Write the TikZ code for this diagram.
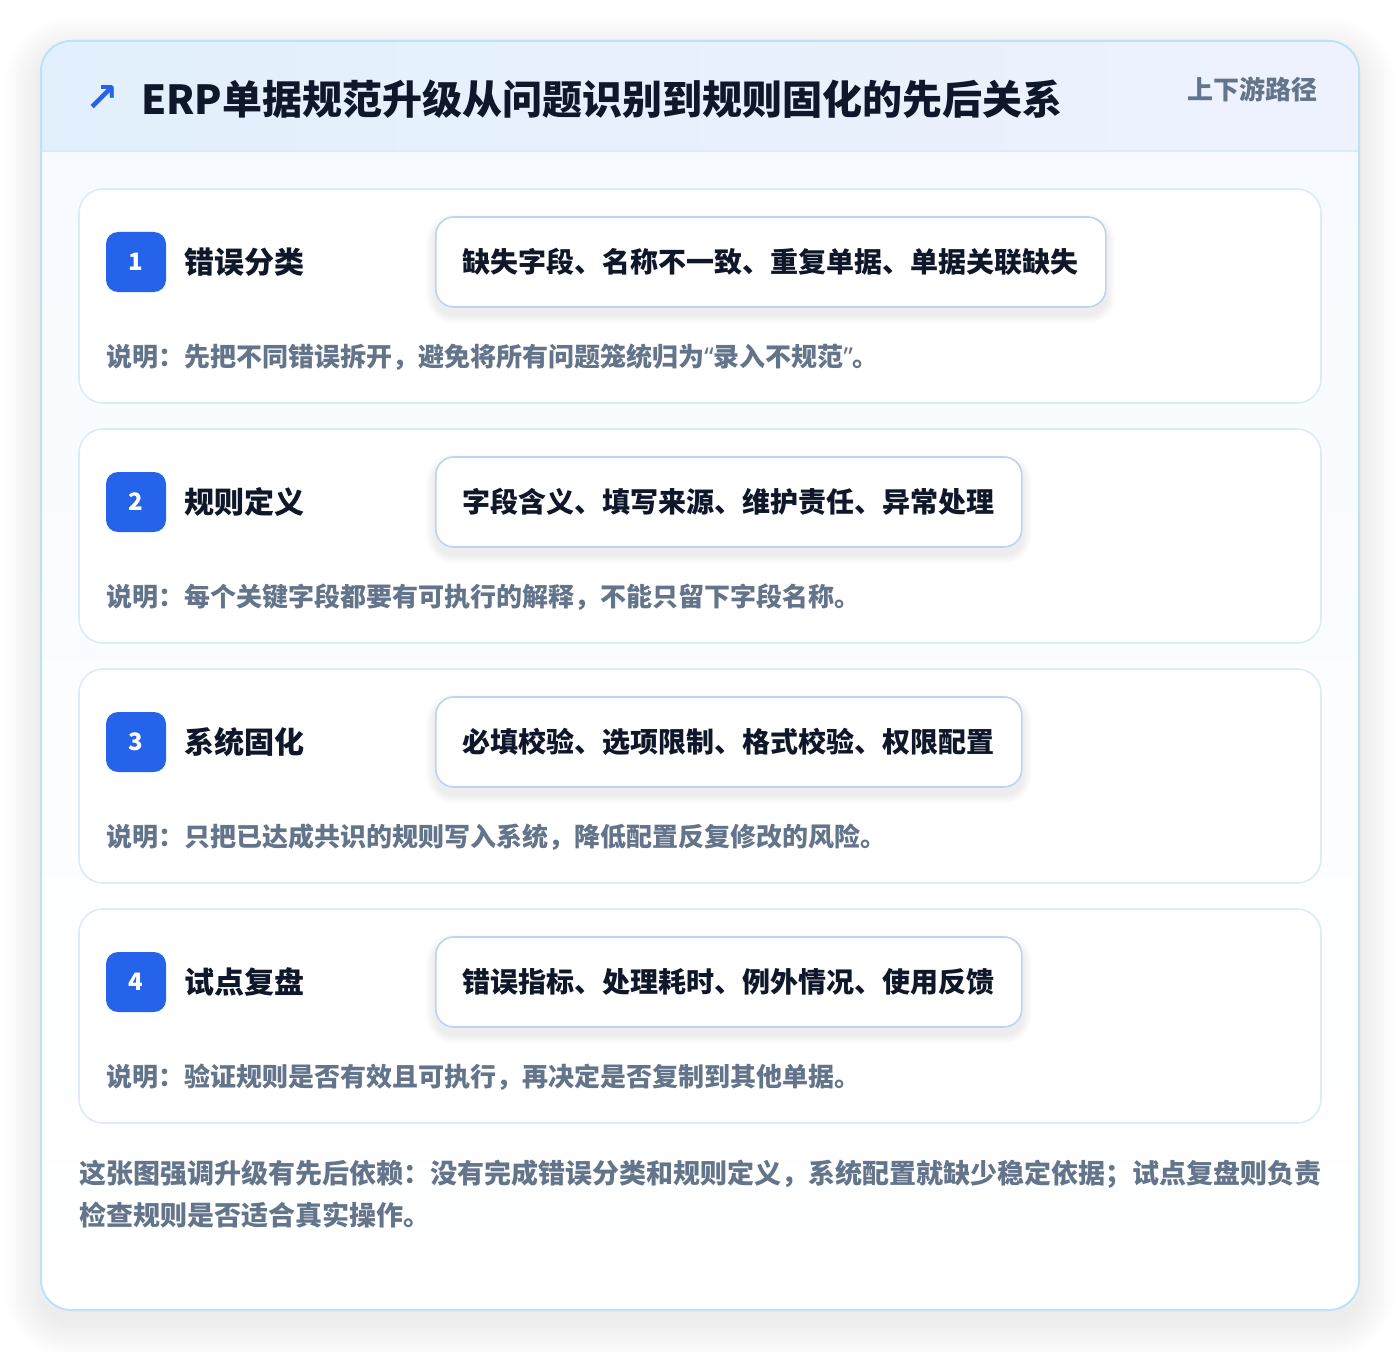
\documentclass[tikz,border=0pt]{standalone}
\usepackage{fontspec}
\setmainfont{Noto Sans CJK SC}
\newfontfamily\symfont{DejaVu Sans}
\newfontfamily\quotefont{Noto Sans}
\usepackage{xcolor}
\usepackage{tikz}
\usetikzlibrary{positioning, calc}
\definecolor{inkdark}{HTML}{0F172A}
\definecolor{inkgray}{HTML}{64748B}
\definecolor{stepblue}{HTML}{2563EB}
\definecolor{frameline}{HTML}{BFE1F6}
\definecolor{cardline}{HTML}{DCEAFB}
\definecolor{pillline}{HTML}{BCD4F3}
\definecolor{headleft}{HTML}{E1F0FC}
\definecolor{headright}{HTML}{EEF2FE}
\definecolor{panelfill}{HTML}{F7FBFF}
\pgfdeclarelayer{back}
\pgfdeclarelayer{mid}
\pgfsetlayers{back,mid,main}
\tikzstyle{card}     = [rectangle, draw=cardline, line width=1.2pt, fill=white, rounded corners=18pt, minimum width=931.5pt, minimum height=160.5pt]
\tikzstyle{badge}    = [rectangle, fill=stepblue, rounded corners=9pt, minimum size=45pt, inner sep=0pt, text=white, font=\bfseries\fontsize{18}{18}\selectfont]
\tikzstyle{steptitle}= [anchor=west, inner sep=0pt, text=inkdark, font=\bfseries\fontsize{22.5}{22.5}\selectfont]
\tikzstyle{pill}     = [rectangle, draw=pillline, line width=1.2pt, fill=white, rounded corners=13.5pt, minimum height=67.5pt, inner xsep=20.25pt, anchor=west, text=inkdark, font=\bfseries\fontsize{21}{21}\selectfont]
\tikzstyle{note}     = [anchor=west, inner sep=0pt, text=inkgray, font=\bfseries\fontsize{19.5}{19.5}\selectfont]
% soft shadow under a pill node
\newcommand{\pillshadow}[1]{%
  \foreach \s in {1,...,9}{%
    \fill [black, opacity=0.007, rounded corners={13.5pt+0.75pt*\s}]
      ($(#1.south west)+(-0.75pt*\s,-0.75pt*\s-5pt)$) rectangle ($(#1.north east)+(0.75pt*\s,0.75pt*\s-5pt)$);}}

\begin{document}
\begin{tikzpicture}[x=0.75pt, y=-0.75pt]
    \useasboundingbox (0,0) rectangle (1400,1352);

    \begin{pgfonlayer}{back}
    \fill [white] (0,0) rectangle (1400,1352);
    % outer frame with soft shadow
    \foreach \s in {1,...,18}{
      \fill [black, opacity=0.005, rounded corners={22.5pt+1.5pt*\s}] (41-2*\s,41-2*\s+12) rectangle (1359+2*\s,1310+2*\s+12);
    }
    \fill [panelfill, rounded corners=22.5pt] (41,41) rectangle (1359,1310);
    \begin{scope}
      \clip [rounded corners=22.5pt] (41,41) rectangle (1359,1310);
      \shade [left color=headleft, right color=headright] (41,41) rectangle (1359,151);
      \shade [top color=panelfill, bottom color=white] (41,151) rectangle (1359,1310);
    \end{scope}
    \draw [cardline, line width=1.2pt] (41,151) -- (1359,151);
    \draw [frameline, line width=1.5pt, rounded corners=22.5pt] (41,41) rectangle (1359,1310);

    % step cards
    \node (card1) [card] at (700,296) {};
    \node (card2) [card] at (700,536) {};
    \node (card3) [card] at (700,776) {};
    \node (card4) [card] at (700,1016) {};
    \end{pgfonlayer}

    % header
    \node (icon) [anchor=center, inner sep=0pt, text=stepblue, font=\symfont\bfseries\fontsize{30}{30}\selectfont] at (102,99) {↗};
    \node (title) [anchor=west, inner sep=0pt, text=inkdark, font=\bfseries\fontsize{30}{30}\selectfont] at (141,99) {ERP单据规范升级从问题识别到规则固化的先后关系};
    \node (tag) [anchor=east, inner sep=0pt, text=inkgray, font=\bfseries\fontsize{19.5}{19.5}\selectfont] at (1318,89) {上下游路径};

    % step 1
    \node (b1) [badge] at (136,262) {1};
    \node (t1) [steptitle] at (184,262) {错误分类};
    \node (p1) [pill] at (435,262) {缺失字段、名称不一致、重复单据、单据关联缺失};
    \node (n1) [note] at (106,357) {说明：先把不同错误拆开，避免将所有问题笼统归为{\quotefont“}录入不规范{\quotefont”}。};

    % step 2
    \node (b2) [badge] at (136,502) {2};
    \node (t2) [steptitle] at (184,502) {规则定义};
    \node (p2) [pill] at (435,502) {字段含义、填写来源、维护责任、异常处理};
    \node (n2) [note] at (106,597) {说明：每个关键字段都要有可执行的解释，不能只留下字段名称。};

    % step 3
    \node (b3) [badge] at (136,742) {3};
    \node (t3) [steptitle] at (184,742) {系统固化};
    \node (p3) [pill] at (435,742) {必填校验、选项限制、格式校验、权限配置};
    \node (n3) [note] at (106,837) {说明：只把已达成共识的规则写入系统，降低配置反复修改的风险。};

    % step 4
    \node (b4) [badge] at (136,982) {4};
    \node (t4) [steptitle] at (184,982) {试点复盘};
    \node (p4) [pill] at (435,982) {错误指标、处理耗时、例外情况、使用反馈};
    \node (n4) [note] at (106,1077) {说明：验证规则是否有效且可执行，再决定是否复制到其他单据。};

    \begin{pgfonlayer}{mid}
    \pillshadow{p1}
    \pillshadow{p2}
    \pillshadow{p3}
    \pillshadow{p4}
    \end{pgfonlayer}

    % summary
    \node (summary) [anchor=north west, inner sep=0pt, align=left, text=inkgray, font=\bfseries\fontsize{20.25}{31.5}\selectfont] at (79,1160) {这张图强调升级有先后依赖：没有完成错误分类和规则定义，系统配置就缺少稳定依据；试点复盘则负责\\检查规则是否适合真实操作。};
  \end{tikzpicture}
\end{document}
